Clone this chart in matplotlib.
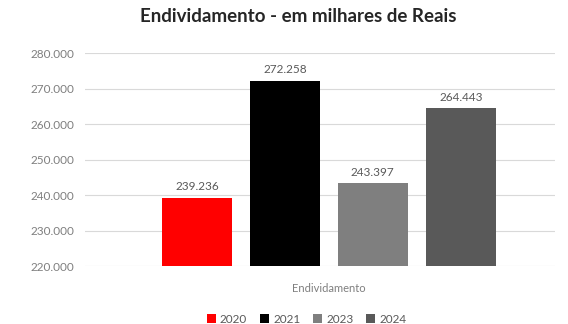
import matplotlib
matplotlib.use("Agg")
import matplotlib.pyplot as plt
from matplotlib.ticker import FuncFormatter

plt.rcParams['font.family'] = ['Lato', 'DejaVu Sans']

years = ["2020", "2021", "2023", "2024"]
values = [239236, 272258, 243397, 264443]
colors = ["#FF0000", "#000000", "#7F7F7F", "#595959"]
category = "Endividamento"


def br(v, pos=None):
    return f"{int(v):,}".replace(",", ".")


fig = plt.figure(figsize=(5.68, 3.24), dpi=100)
ax = fig.add_axes([0.15, 0.179, 0.827, 0.657])

xs = list(range(len(values)))
bars = ax.bar(xs, values, width=0.795, color=colors, label=years, zorder=3)
for x, v in zip(xs, values):
    ax.text(x, v + 1500, br(v), ha="center", va="bottom", fontsize=8.5, color="#595959")

ax.set_ylim(220000, 280000)
ax.set_xlim(-1.27, 4.07)
ax.set_yticks(range(220000, 280001, 10000))
ax.yaxis.set_major_formatter(FuncFormatter(br))
ax.tick_params(axis="y", length=0, labelsize=8.5, labelcolor="#7F7F7F", pad=8)
ax.set_xticks([1.5])
ax.set_xticklabels([category])
ax.tick_params(axis="x", length=0, labelsize=8, labelcolor="#7F7F7F", pad=12)
ax.grid(axis="y", color="#D9D9D9", linewidth=0.8, zorder=0)
for s in ax.spines.values():
    s.set_visible(False)

fig.suptitle("Endividamento - em milhares de Reais", x=0.525, y=0.975,
             fontsize=13.5, fontweight="bold", color="#262626")

fig.legend(handles=bars, labels=years, loc="lower center", bbox_to_anchor=(0.54, -0.035),
           ncol=4, frameon=False, fontsize=8.5, labelcolor="#595959",
           handlelength=0.75, handleheight=0.75, handletextpad=0.35, columnspacing=1.1)

fig.savefig("out.png", dpi=100, facecolor="white")
